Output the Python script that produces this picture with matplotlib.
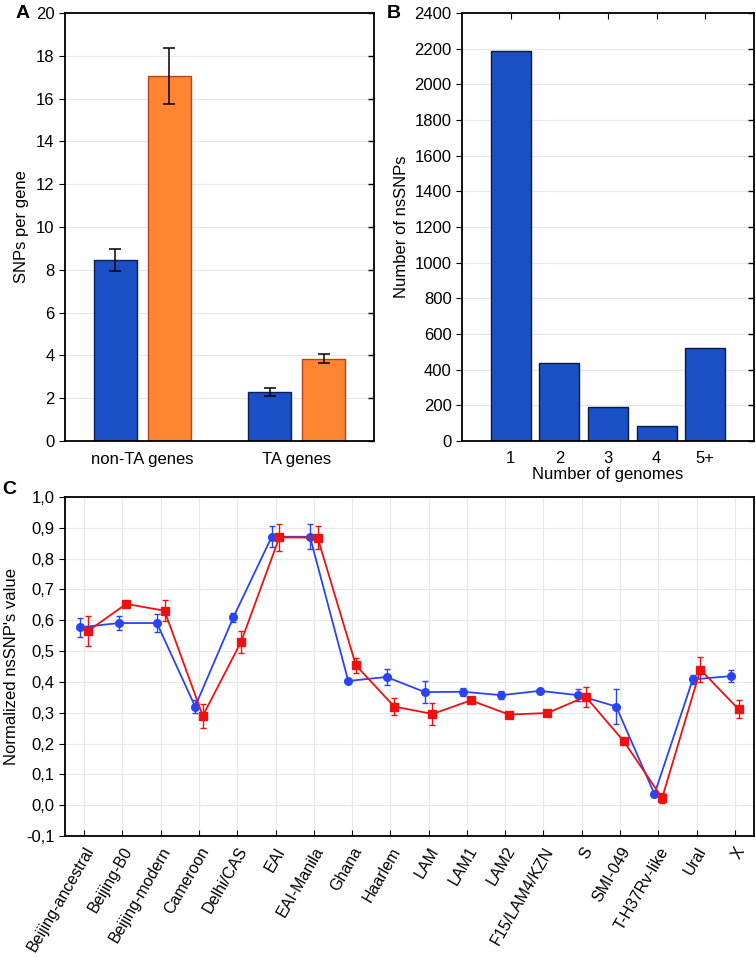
import matplotlib
matplotlib.use("Agg")
import matplotlib.pyplot as plt
from matplotlib.ticker import FuncFormatter, MultipleLocator
import numpy as np

plt.rcParams['font.family'] = ['Liberation Sans', 'DejaVu Sans']
plt.rcParams['font.size'] = 12

# panel A
gene_groups = ['non-TA genes', 'TA genes']
snps_blue = [8.45, 2.3]
snps_blue_err = [0.5, 0.2]
snps_orange = [17.05, 3.85]
snps_orange_err = [1.3, 0.2]

# panel B
genome_labels = ['1', '2', '3', '4', '5+']
nssnp_counts = [2185, 440, 190, 85, 520]

# panel C
lineages = ['Beijing-ancestral', 'Beijing-B0', 'Beijing-modern', 'Cameroon',
            'Delhi/CAS', 'EAI', 'EAI-Manila', 'Ghana', 'Haarlem', 'LAM',
            'LAM1', 'LAM2', 'F15/LAM4/KZN', 'S', 'SMI-049', 'T-H37Rv-like',
            'Ural', 'X']
blue_vals = [0.577, 0.591, 0.591, 0.320, 0.610, 0.871, 0.871, 0.403, 0.416,
             0.367, 0.368, 0.357, 0.371, 0.357, 0.320, 0.036, 0.408, 0.419]
blue_err = [0.030, 0.022, 0.030, 0.020, 0.015, 0.034, 0.040, 0.004, 0.025,
            0.036, 0.013, 0.014, 0.006, 0.020, 0.056, 0.006, 0.016, 0.020]
red_vals = [0.565, 0.653, 0.631, 0.290, 0.530, 0.869, 0.868, 0.454, 0.320,
            0.296, 0.340, 0.294, 0.299, 0.352, 0.207, 0.023, 0.440, 0.311]
red_err = [0.050, 0.008, 0.034, 0.039, 0.036, 0.045, 0.037, 0.025, 0.027,
           0.036, 0.006, 0.005, 0.005, 0.032, 0.006, 0.015, 0.040, 0.029]

W, H = 756, 957
BAR_BLUE = '#1a4fc6'
BAR_ORANGE = '#ff8533'
GRID = '#e8e8e8'


def px_axes(fig, left, top, right, bottom):
    return fig.add_axes([left / W, 1 - bottom / H, (right - left) / W, (bottom - top) / H])


def style_box(ax):
    for s in ax.spines.values():
        s.set_linewidth(1.3)
        s.set_color('black')
    ax.set_axisbelow(True)


def inner_right_ticks(ax):
    # right-hand ticks point into the plot, left ones point out
    tw = ax.twinx()
    tw.set_ylim(ax.get_ylim())
    tw.set_yticks(ax.get_yticks())
    tw.tick_params(axis='y', direction='in', length=4, width=1.0, labelright=False)
    for s in tw.spines.values():
        s.set_visible(False)


def comma(v, _):
    return f"{v:.1f}".replace('.', ',')


fig = plt.figure(figsize=(W / 100, H / 100), dpi=100)

# ---- A ----
axA = px_axes(fig, 65, 13, 374, 441)
style_box(axA)
x = np.arange(len(gene_groups))
axA.bar(x - 0.175, snps_blue, 0.28, color=BAR_BLUE, edgecolor='#0a1f5c', lw=1.0,
        yerr=snps_blue_err, capsize=4.5, error_kw=dict(ecolor='black', elinewidth=1.1, capthick=1.1))
axA.bar(x + 0.175, snps_orange, 0.28, color=BAR_ORANGE, edgecolor='#b5441a', lw=1.0,
        yerr=snps_orange_err, capsize=4.5, error_kw=dict(ecolor='black', elinewidth=1.1, capthick=1.1))
axA.set_xlim(-0.5, 1.5)
axA.set_ylim(0, 20)
axA.set_yticks(np.arange(0, 21, 2))
axA.set_xticks(x)
axA.set_xticklabels(gene_groups)
axA.tick_params(axis='x', length=0, pad=8)
axA.tick_params(axis='y', direction='out', length=4)
axA.yaxis.grid(True, color=GRID, lw=0.8)
axA.set_ylabel('SNPs per gene', labelpad=5)
inner_right_ticks(axA)
fig.text(16 / W, 1 - 14 / H, 'A', fontsize=14, fontweight='bold', va='center')

# ---- B ----
axB = px_axes(fig, 462, 13, 754, 441)
style_box(axB)
xb = np.arange(1, len(genome_labels) + 1)
axB.bar(xb, nssnp_counts, 0.82, color=BAR_BLUE, edgecolor='#0a1a40', lw=1.0)
axB.set_xlim(0, 6)
axB.set_ylim(0, 2400)
axB.set_yticks(np.arange(0, 2401, 200))
axB.set_xticks(xb)
axB.set_xticklabels(genome_labels)
axB.tick_params(axis='x', direction='in', length=4, top=True, bottom=False, pad=7)
axB.tick_params(axis='y', direction='out', length=4)
axB.yaxis.grid(True, color=GRID, lw=0.8)
axB.set_ylabel('Number of nsSNPs', labelpad=4)
axB.set_xlabel('Number of genomes', labelpad=1)
inner_right_ticks(axB)
fig.text(387 / W, 1 - 14 / H, 'B', fontsize=14, fontweight='bold', va='center')

# ---- C ----
axC = px_axes(fig, 65, 497, 754, 836)
style_box(axC)
xc = np.arange(len(lineages))
axC.errorbar(xc - 0.1, blue_vals, yerr=blue_err, color='#2a45f0', marker='o', ms=5.5,
             lw=1.3, capsize=2, elinewidth=1.0, capthick=1.0)
axC.errorbar(xc + 0.1, red_vals, yerr=red_err, color='#f01010', marker='s', ms=5.5,
             lw=1.3, capsize=2, elinewidth=1.0, capthick=1.0)
axC.set_xlim(-0.5, len(lineages) - 0.5)
axC.set_ylim(-0.1, 1.0)
axC.yaxis.set_major_locator(MultipleLocator(0.1))
axC.yaxis.set_major_formatter(FuncFormatter(comma))
axC.set_xticks(xc)
axC.set_xticklabels(lineages, rotation=60, ha='right', rotation_mode='anchor', fontsize=11.5)
axC.tick_params(axis='x', direction='in', length=4, pad=6)
axC.tick_params(axis='y', direction='out', length=4)
axC.grid(True, color=GRID, lw=0.8)
axC.set_ylabel("Normalized nsSNP's value", labelpad=5)
fig.text(2 / W, 1 - 490 / H, 'C', fontsize=14, fontweight='bold', va='center')

fig.savefig('out.png', dpi=100)
